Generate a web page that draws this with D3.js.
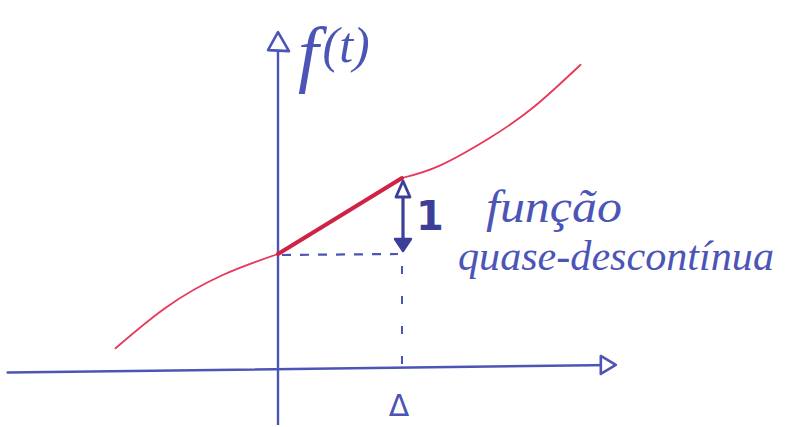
<!DOCTYPE html>
<html>
<head>
<meta charset="utf-8">
<script src="https://cdn.jsdelivr.net/npm/d3@7"></script>
<style>
  html, body { margin: 0; padding: 0; background: #fff; }
  svg { display: block; }
</style>
</head>
<body>
<svg id="chart" width="785" height="427"></svg>
<script>
// f(t): a smooth curve with a unit-slope ramp between t = 0 and t = Δ
const leftBranch  = [[-1.31, 0.26], [-0.90, 0.80], [-0.45, 1.22], [0, 1.50]];
const rampSegment = [[0, 1.50], [1, 2.50]];
const rightBranch = [[1, 2.50], [1.30, 2.66], [1.70, 3.02], [2.06, 3.43], [2.44, 3.99]];

// axes (hand-drawn, the t axis slightly tilted)
const tAxis = [[-2.18, -0.06], [2.70, 0.04]];
const fAxis = [[0, -0.75], [0, 4.42]];

// jump marker
const jumpT = 1;
const jumpFrom = 1.5, jumpTo = 2.5;
const jumpLabel = "1";
const tickLabel = "Δ";
const axisLabelF = "f";
const axisLabelArg = "(t)";
const noteLines = ["função", "quase-descontínua"];

const blue = "#4c55b6";
const darkBlue = "#3b3f98";
const red = "#e8375a";
const darkRed = "#cf2346";

const svg = d3.select("#chart");
const x = d3.scaleLinear().domain([0, 1]).range([278, 402]);
const y = d3.scaleLinear().domain([0, 1]).range([368, 292]);

const line = d3.line().x(d => x(d[0])).y(d => y(d[1]));
const smooth = d3.line().x(d => x(d[0])).y(d => y(d[1])).curve(d3.curveNatural);

// dashed guides from f(0) across and from Δ down
svg.append("line")
  .attr("x1", x(0) + 4).attr("y1", y(jumpFrom) + 1)
  .attr("x2", x(jumpT) - 4).attr("y2", y(jumpFrom))
  .attr("stroke", blue).attr("stroke-width", 2.2)
  .attr("stroke-dasharray", "9,9");
svg.append("line")
  .attr("x1", x(jumpT)).attr("y1", y(jumpFrom) + 12)
  .attr("x2", x(jumpT)).attr("y2", y(0) + 4)
  .attr("stroke", blue).attr("stroke-width", 2)
  .attr("stroke-dasharray", "8,22");

// axes
svg.append("path").attr("d", line(tAxis))
  .attr("fill", "none").attr("stroke", blue).attr("stroke-width", 2.6).attr("stroke-linecap", "round");
svg.append("path").attr("d", line(fAxis))
  .attr("fill", "none").attr("stroke", blue).attr("stroke-width", 2.4);

// open arrowheads
const tEnd = tAxis[1];
const tx = x(tEnd[0]), ty = y(tEnd[1]);
svg.append("path")
  .attr("d", `M${tx - 12},${ty - 9} L${tx + 3},${ty} L${tx - 12},${ty + 9} Z`)
  .attr("fill", "#fff").attr("stroke", blue).attr("stroke-width", 2.6).attr("stroke-linejoin", "round");
const fEnd = fAxis[1];
const fx = x(fEnd[0]), fy = y(fEnd[1]);
svg.append("path")
  .attr("d", `M${fx - 10},${fy + 18} L${fx},${fy} L${fx + 11},${fy + 19} Z`)
  .attr("fill", "#fff").attr("stroke", blue).attr("stroke-width", 2.6).attr("stroke-linejoin", "round");

// the curve
svg.append("path").attr("d", smooth(leftBranch))
  .attr("fill", "none").attr("stroke", red).attr("stroke-width", 1.8).attr("stroke-linecap", "round");
svg.append("path").attr("d", smooth(rightBranch))
  .attr("fill", "none").attr("stroke", red).attr("stroke-width", 1.8).attr("stroke-linecap", "round");
svg.append("path").attr("d", line(rampSegment))
  .attr("fill", "none").attr("stroke", darkRed).attr("stroke-width", 4).attr("stroke-linecap", "round");

// double arrow showing the jump
const jx = x(jumpT) + 1;
const arrowTop = y(jumpTo) + 3, arrowBottom = y(jumpFrom) - 3;
svg.append("line")
  .attr("x1", jx).attr("y1", arrowTop + 14).attr("x2", jx).attr("y2", arrowBottom - 10)
  .attr("stroke", darkBlue).attr("stroke-width", 3.2);
svg.append("path")
  .attr("d", `M${jx - 7},${arrowTop + 16} L${jx},${arrowTop} L${jx + 7},${arrowTop + 16} Z`)
  .attr("fill", "#fff").attr("stroke", darkBlue).attr("stroke-width", 2.8).attr("stroke-linejoin", "round");
svg.append("path")
  .attr("d", `M${jx - 8},${arrowBottom - 12} L${jx},${arrowBottom} L${jx + 8},${arrowBottom - 12} Z`)
  .attr("fill", darkBlue).attr("stroke", darkBlue).attr("stroke-width", 2.4).attr("stroke-linejoin", "round");

svg.append("text")
  .attr("x", jx + 27).attr("y", y((jumpFrom + jumpTo) / 2) + 14)
  .attr("text-anchor", "middle")
  .attr("font-family", "DejaVu Sans").attr("font-weight", "bold").attr("font-size", 40)
  .attr("fill", darkBlue).text(jumpLabel);

// tick label under Δ
svg.append("text")
  .attr("x", x(jumpT) - 3).attr("y", 416)
  .attr("text-anchor", "middle")
  .attr("font-family", "DejaVu Sans").attr("font-size", 30)
  .attr("fill", blue).text(tickLabel);

// f(t) axis label
const fl = svg.append("text")
  .attr("x", 298).attr("y", 78)
  .attr("font-family", "Liberation Serif, serif").attr("font-style", "italic")
  .attr("fill", blue);
fl.append("tspan").attr("font-size", 74).text(axisLabelF);
fl.append("tspan").attr("font-size", 50).attr("dx", 4).attr("dy", -16).text(axisLabelArg);

// note
const noteFont = { family: "Liberation Serif, serif", size: 42 };
svg.append("text")
  .attr("x", 486).attr("y", 222)
  .attr("font-family", noteFont.family).attr("font-style", "italic").attr("font-size", noteFont.size + 4)
  .attr("textLength", 136).attr("lengthAdjust", "spacingAndGlyphs")
  .attr("fill", blue).text(noteLines[0]);
svg.append("text")
  .attr("x", 458).attr("y", 270)
  .attr("font-family", noteFont.family).attr("font-style", "italic").attr("font-size", noteFont.size)
  .attr("textLength", 316).attr("lengthAdjust", "spacingAndGlyphs")
  .attr("fill", blue).text(noteLines[1]);
</script>
</body>
</html>
